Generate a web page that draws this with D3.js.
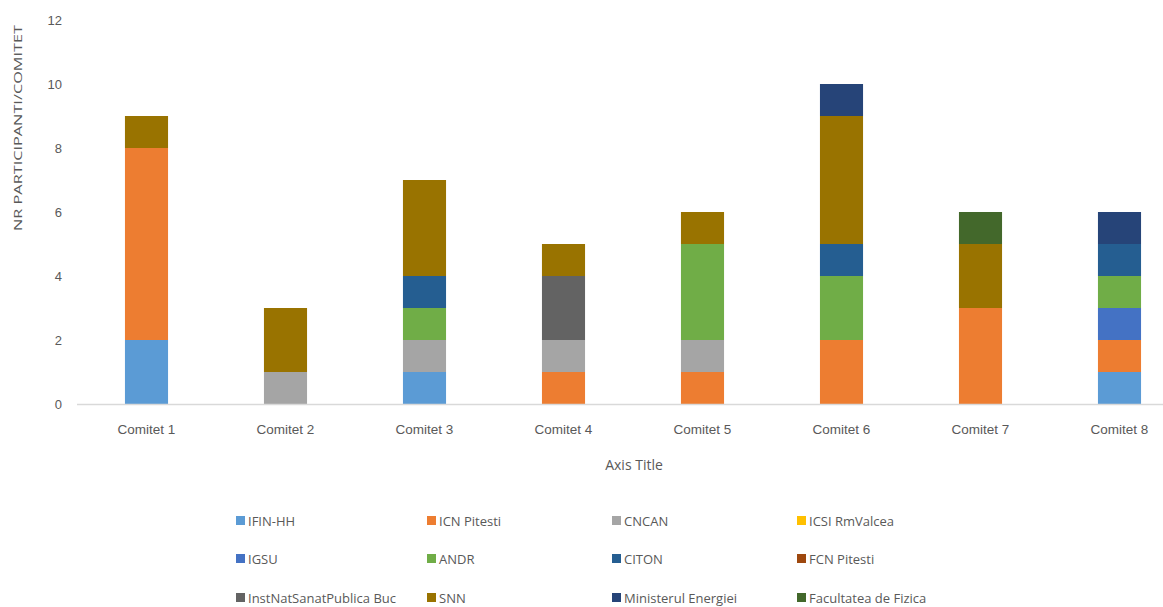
<!DOCTYPE html>
<html>
<head>
<meta charset="utf-8">
<script src="https://cdn.jsdelivr.net/npm/d3@7"></script>
<style>
  body { margin: 0; background: #fff; }
  svg { display: block; font-family: "Open Sans", "Liberation Sans", sans-serif; }
</style>
</head>
<body>
<svg id="chart" width="1163" height="607"></svg>
<script>
// categories on the x axis
var committees = ["Comitet 1", "Comitet 2", "Comitet 3", "Comitet 4", "Comitet 5", "Comitet 6", "Comitet 7", "Comitet 8"];

// one array per organisation, one value per committee
var ifinHH         = [2, 0, 1, 0, 0, 0, 0, 1];
var icnPitesti     = [6, 0, 0, 1, 1, 2, 3, 1];
var cncan          = [0, 1, 1, 1, 1, 0, 0, 0];
var icsiRmValcea   = [0, 0, 0, 0, 0, 0, 0, 0];
var igsu           = [0, 0, 0, 0, 0, 0, 0, 1];
var andr           = [0, 0, 1, 0, 3, 2, 0, 1];
var citon          = [0, 0, 1, 0, 0, 1, 0, 1];
var fcnPitesti     = [0, 0, 0, 0, 0, 0, 0, 0];
var instNatSanat   = [0, 0, 0, 2, 0, 0, 0, 0];
var snn            = [1, 2, 3, 1, 1, 4, 2, 0];
var ministerEnerg  = [0, 0, 0, 0, 0, 1, 0, 1];
var facultFizica   = [0, 0, 0, 0, 0, 0, 1, 0];

var seriesNames = ["IFIN-HH", "ICN Pitesti", "CNCAN", "ICSI RmValcea", "IGSU", "ANDR", "CITON",
                   "FCN Pitesti", "InstNatSanatPublica Buc", "SNN", "Ministerul Energiei", "Facultatea de Fizica"];
var seriesValues = [ifinHH, icnPitesti, cncan, icsiRmValcea, igsu, andr, citon,
                    fcnPitesti, instNatSanat, snn, ministerEnerg, facultFizica];
var seriesColors = ["#5B9BD5", "#ED7D31", "#A5A5A5", "#FFC000", "#4472C4", "#70AD47", "#255E91",
                    "#9E480E", "#636363", "#997300", "#264478", "#43682B"];

var yTicks = [0, 2, 4, 6, 8, 10, 12];

var svg = d3.select("#chart");
var textColor = "#595959";

// build rows for the stack
var rows = committees.map(function(c, i){
	var row = { committee: c };
	seriesNames.forEach(function(name, s){ row[name] = seriesValues[s][i]; });
	return row;
});
var stacked = d3.stack().keys(seriesNames)(rows);

var x = d3.scaleBand()
	.domain(committees)
	.range([77, 1189])
	.paddingInner(0.69)
	.paddingOuter(0.345);

var y = d3.scaleLinear()
	.domain([0, 12])
	.range([404, 20]);

// bars
var layers = svg.append("g").selectAll("g")
	.data(stacked)
	.enter().append("g")
	.attr("fill", function(d, i){ return seriesColors[i]; });

layers.selectAll("rect")
	.data(function(d){ return d; })
	.enter().append("rect")
	.filter(function(d){ return d[1] - d[0] > 0; })
	.attr("x", function(d){ return x(d.data.committee); })
	.attr("y", function(d){ return y(d[1]); })
	.attr("width", x.bandwidth())
	.attr("height", function(d){ return y(d[0]) - y(d[1]); });

// baseline
svg.append("line")
	.attr("x1", 77)
	.attr("x2", 1163)
	.attr("y1", y(0) + 0.5)
	.attr("y2", y(0) + 0.5)
	.attr("stroke", "#D9D9D9")
	.attr("stroke-width", 1.5);

// y axis labels
var yAxis = d3.axisLeft(y).tickValues(yTicks).tickSize(0).tickPadding(0);
var yG = svg.append("g").attr("transform", "translate(62,0)").call(yAxis);
yG.select(".domain").remove();
yG.selectAll("text")
	.attr("fill", textColor)
	.style("font-size", "13px");

// x axis labels
var xAxis = d3.axisBottom(x).tickSize(0).tickPadding(0);
var xG = svg.append("g").attr("transform", "translate(0,424)").call(xAxis);
xG.select(".domain").remove();
xG.selectAll("text")
	.attr("fill", textColor)
	.style("font-size", "13.5px");

// axis titles
svg.append("text")
	.attr("x", 634)
	.attr("y", 470)
	.attr("text-anchor", "middle")
	.attr("fill", textColor)
	.style("font-size", "14px")
	.text("Axis Title");

svg.append("text")
	.attr("transform", "translate(22,128) rotate(-90)")
	.attr("text-anchor", "middle")
	.attr("fill", textColor)
	.attr("textLength", 206)
	.attr("lengthAdjust", "spacingAndGlyphs")
	.style("font-size", "11px")
	.text("NR PARTICIPANTI/COMITET");

// legend, 4 columns by 3 rows
var legendCols = [236, 427, 612, 797];
var legendRows = [521, 559, 598];
var legend = svg.append("g").selectAll("g")
	.data(seriesNames)
	.enter().append("g")
	.attr("transform", function(d, i){
		return "translate(" + legendCols[i % 4] + "," + legendRows[Math.floor(i / 4)] + ")";
	});

legend.append("rect")
	.attr("x", 0)
	.attr("y", -5)
	.attr("width", 9)
	.attr("height", 9)
	.attr("fill", function(d, i){ return seriesColors[i]; });

legend.append("text")
	.attr("x", 12)
	.attr("y", 0)
	.attr("dy", "0.35em")
	.attr("fill", textColor)
	.style("font-size", "13px")
	.text(function(d){ return d; });
</script>
</body>
</html>
